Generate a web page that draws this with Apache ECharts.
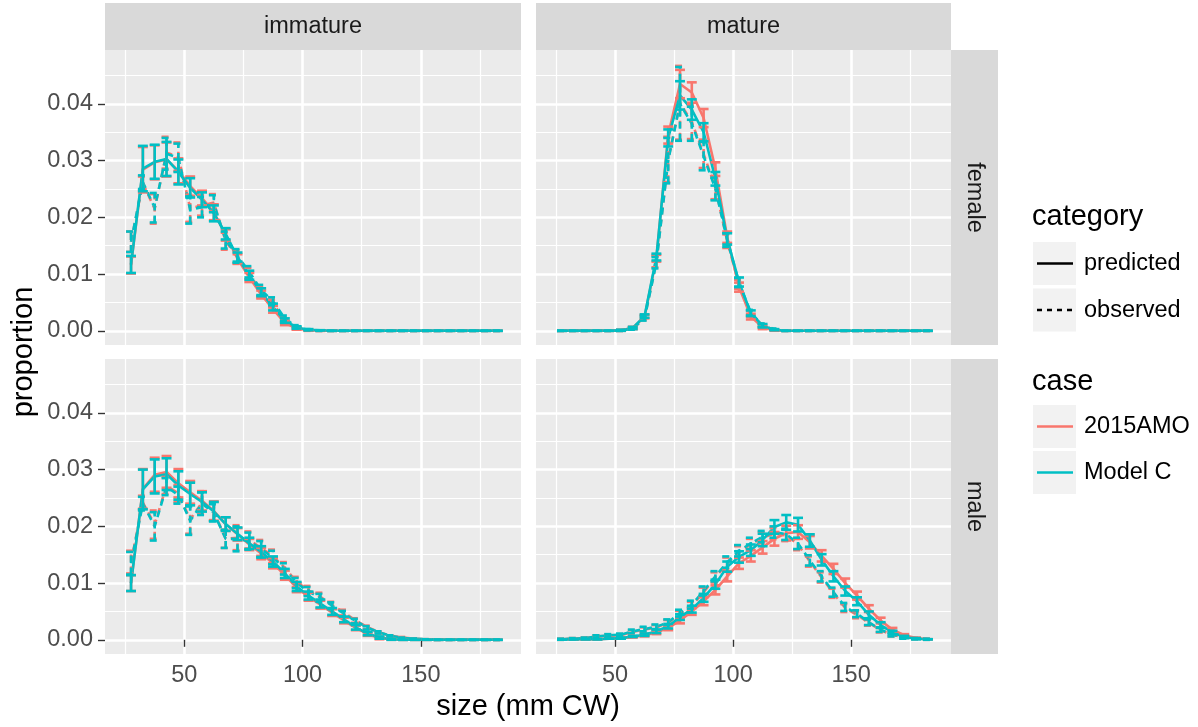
<!DOCTYPE html>
<html><head><meta charset="utf-8">
<script src="https://cdn.jsdelivr.net/npm/echarts@6/dist/echarts.min.js"></script>
<style>html,body{margin:0;padding:0;background:#fff}#c{width:1198px;height:727px}</style>
</head><body><div id="c"></div>
<script>
// ---------- data ----------
const sizes = [27.5,32.5,37.5,42.5,47.5,52.5,57.5,62.5,67.5,72.5,77.5,82.5,87.5,92.5,97.5,102.5,107.5,112.5,117.5,122.5,127.5,132.5,137.5,142.5,147.5,152.5,157.5,162.5,167.5,172.5,177.5,182.5];
const colNames = ['immature','mature'];
const rowNames = ['female','male'];
const caseNames = ['2015AMO','Model C'];
const categoryNames = ['predicted','observed'];
const xTicks = [50,100,150];
const xMinor = [25,75,125,175];
const yTicks = [0,0.01,0.02,0.03,0.04];
const yMinor = [0.005,0.015,0.025,0.035,0.045];

// immature female
const predA_IF = [0.0116,0.0284,0.0297,0.0302,0.0282,0.0255,0.0234,0.0209,0.0169,0.0127,0.0094,0.0064,0.0038,0.0014,0.0004,0.0001,0,0,0,0,0,0,0,0,0,0,0,0,0,0,0,0];
const predC_IF = [0.0117,0.0286,0.0298,0.0303,0.0280,0.0252,0.0231,0.0207,0.0171,0.0130,0.0098,0.0068,0.0042,0.0018,0.0006,0.0002,0.0001,0,0,0,0,0,0,0,0,0,0,0,0,0,0,0];
const errPred_IF = [0.0015,0.0040,0.0030,0.0030,0.0022,0.0017,0.0013,0.0014,0.0010,0.0008,0.0008,0.0007,0.0006,0.0004,0.0002,0.0001,0,0,0,0,0,0,0,0,0,0,0,0,0,0,0,0];
const obsA_IF = [0.0157,0.0260,0.0215,0.0314,0.0307,0.0216,0.0221,0.0226,0.0158,0.0130,0.0101,0.0068,0.0048,0.0019,0.0005,0.0001,0,0,0,0,0,0,0,0,0,0,0,0,0,0,0,0];
const obsC_IF = [0.0157,0.0262,0.0217,0.0312,0.0305,0.0213,0.0218,0.0224,0.0160,0.0132,0.0104,0.0072,0.0052,0.0022,0.0007,0.0002,0,0,0,0,0,0,0,0,0,0,0,0,0,0,0,0];
const errObs_IF = [0.0018,0.0012,0.0026,0.0028,0.0025,0.0024,0.0018,0.0015,0.0015,0.0012,0.0010,0.0009,0.0007,0.0005,0.0003,0.0001,0,0,0,0,0,0,0,0,0,0,0,0,0,0,0,0];

// mature female
const predA_MF = [0,0,0,0,0,0.0001,0.0005,0.0025,0.0128,0.0345,0.0435,0.0420,0.0375,0.0285,0.0165,0.0077,0.0025,0.0006,0.0001,0,0,0,0,0,0,0,0,0,0,0,0,0];
const predC_MF = [0,0,0,0,0,0.0001,0.0005,0.0026,0.0130,0.0340,0.0415,0.0390,0.0350,0.0268,0.0162,0.0086,0.0031,0.0009,0.0002,0,0,0,0,0,0,0,0,0,0,0,0,0];
const errPred_MF = [0,0,0,0,0,0.0001,0.0002,0.0003,0.0006,0.0015,0.0025,0.0018,0.0016,0.0012,0.0010,0.0008,0.0005,0.0003,0.0001,0,0,0,0,0,0,0,0,0,0,0,0,0];
const obsA_MF = [0,0,0,0,0,0,0.0004,0.0023,0.0122,0.0302,0.0402,0.0368,0.0312,0.0252,0.0158,0.0082,0.0030,0.0009,0.0002,0,0,0,0,0,0,0,0,0,0,0,0,0];
const obsC_MF = [0,0,0,0,0,0,0.0004,0.0022,0.0120,0.0300,0.0400,0.0365,0.0308,0.0250,0.0160,0.0085,0.0032,0.0010,0.0003,0,0,0,0,0,0,0,0,0,0,0,0,0];
const errObs_MF = [0,0,0,0,0,0,0.0002,0.0004,0.0010,0.0040,0.0065,0.0030,0.0025,0.0020,0.0012,0.0008,0.0005,0.0003,0.0001,0,0,0,0,0,0,0,0,0,0,0,0,0];

// immature male
const predA_IM = [0.0100,0.0266,0.0291,0.0296,0.0276,0.0260,0.0245,0.0227,0.0204,0.0186,0.0168,0.0152,0.0135,0.0114,0.0092,0.0076,0.0062,0.0048,0.0034,0.0021,0.0010,0.0003,0.0001,0,0,0,0,0,0,0,0,0];
const predC_IM = [0.0100,0.0265,0.0288,0.0292,0.0272,0.0257,0.0243,0.0226,0.0204,0.0187,0.0170,0.0155,0.0138,0.0117,0.0094,0.0078,0.0064,0.0050,0.0036,0.0022,0.0011,0.0004,0.0001,0,0,0,0,0,0,0,0,0];
const errPred_IM = [0.0014,0.0035,0.0030,0.0028,0.0025,0.0020,0.0017,0.0017,0.0012,0.0011,0.0010,0.0010,0.0009,0.0008,0.0008,0.0007,0.0007,0.0006,0.0005,0.0004,0.0003,0.0002,0.0001,0,0,0,0,0,0,0,0,0];
const obsA_IM = [0.0137,0.0242,0.0203,0.0272,0.0258,0.0212,0.0242,0.0226,0.0178,0.0180,0.0176,0.0162,0.0147,0.0127,0.0102,0.0087,0.0076,0.0061,0.0048,0.0034,0.0022,0.0013,0.0007,0.0004,0.0002,0.0001,0,0,0,0,0,0];
const obsC_IM = [0.0135,0.0240,0.0200,0.0270,0.0255,0.0210,0.0240,0.0224,0.0178,0.0178,0.0174,0.0160,0.0145,0.0125,0.0100,0.0085,0.0074,0.0060,0.0046,0.0033,0.0021,0.0013,0.0007,0.0003,0.0002,0.0001,0,0,0,0,0,0];
const errObs_IM = [0.0020,0.0012,0.0025,0.0015,0.0015,0.0025,0.0020,0.0015,0.0016,0.0022,0.0015,0.0014,0.0012,0.0010,0.0009,0.0008,0.0007,0.0006,0.0005,0.0004,0.0003,0.0002,0.0001,0.0001,0,0,0,0,0,0,0,0];

// mature male
const predA_MM = [0.00005,0.0001,0.0001,0.0001,0.0002,0.0003,0.0005,0.0008,0.0013,0.0021,0.0034,0.0050,0.0068,0.0088,0.0112,0.0135,0.0148,0.0163,0.0178,0.0188,0.0190,0.0172,0.0148,0.0125,0.0100,0.0078,0.0055,0.0034,0.0018,0.0008,0.0003,0.0001];
const predC_MM = [0.00005,0.0001,0.0001,0.0001,0.0002,0.0003,0.0006,0.0009,0.0015,0.0024,0.0040,0.0054,0.0074,0.0098,0.0129,0.0146,0.0158,0.0176,0.0199,0.0207,0.0203,0.0175,0.0141,0.0112,0.0086,0.0068,0.0044,0.0026,0.0013,0.0005,0.0002,0.0001];
const errPred_MM = [0,0,0,0,0,0.0001,0.0001,0.0002,0.0003,0.0004,0.0005,0.0006,0.0007,0.0008,0.0009,0.0010,0.0010,0.0011,0.0012,0.0013,0.0012,0.0011,0.0010,0.0009,0.0008,0.0007,0.0006,0.0005,0.0003,0.0002,0.0001,0];
const obsA_MM = [0.0001,0.0002,0.0003,0.0006,0.0007,0.0008,0.0014,0.0018,0.0022,0.0030,0.0045,0.0060,0.0084,0.0110,0.0135,0.0155,0.0168,0.0180,0.0187,0.0184,0.0168,0.0138,0.0110,0.0082,0.0056,0.0044,0.0030,0.0017,0.0009,0.0004,0.0002,0.0001];
const obsC_MM = [0.0001,0.0002,0.0003,0.0006,0.0008,0.0009,0.0015,0.0019,0.0023,0.0031,0.0047,0.0062,0.0086,0.0112,0.0137,0.0157,0.0170,0.0182,0.0190,0.0186,0.0170,0.0140,0.0112,0.0084,0.0058,0.0046,0.0031,0.0018,0.0009,0.0004,0.0002,0.0001];
const errObs_MM = [0.0001,0.0001,0.0001,0.0002,0.0002,0.0002,0.0003,0.0004,0.0004,0.0005,0.0006,0.0007,0.0008,0.0009,0.0010,0.0010,0.0010,0.0010,0.0010,0.0010,0.0010,0.0009,0.0009,0.0008,0.0007,0.0006,0.0005,0.0004,0.0003,0.0002,0.0001,0.0001];

// ---------- layout / style ----------
const FONT = '"Liberation Sans", Arial, Helvetica, sans-serif';
const caseColors = ['#F8766D', '#00BFC4'];
const DASH = [7, 5];
const LW = 2.6;
const CAP = 2.1; // half cap width in size units
const panelLeft = [105, 536], panelWidth = [416, 415];
const panelTop = [50, 359], panelHeight = 295;
const X_MIN = 16.5, X_MAX = 192.3, Y_MIN = -0.0025, Y_MAX = 0.0495;

const panels = [
  {col:0,row:0, pred:[predA_IF,predC_IF], obs:[obsA_IF,obsC_IF], ep:errPred_IF, eo:errObs_IF},
  {col:1,row:0, pred:[predA_MF,predC_MF], obs:[obsA_MF,obsC_MF], ep:errPred_MF, eo:errObs_MF},
  {col:0,row:1, pred:[predA_IM,predC_IM], obs:[obsA_IM,obsC_IM], ep:errPred_IM, eo:errObs_IM},
  {col:1,row:1, pred:[predA_MM,predC_MM], obs:[obsA_MM,obsC_MM], ep:errPred_MM, eo:errObs_MM}
];

const grids = [], xAxes = [], yAxes = [], series = [];
function errRender(color, dash) {
  return function (params, api) {
    const x = api.value(0), lo = api.value(1), hi = api.value(2);
    const a = api.coord([x, lo]), b = api.coord([x, hi]);
    const l = api.coord([x - CAP, lo])[0], r = api.coord([x + CAP, lo])[0];
    const st = {stroke: color, lineWidth: LW, lineDash: dash, fill: null};
    return {type: 'group', children: [
      {type: 'line', shape: {x1: a[0], y1: a[1], x2: b[0], y2: b[1]}, style: st},
      {type: 'line', shape: {x1: l, y1: a[1], x2: r, y2: a[1]}, style: st},
      {type: 'line', shape: {x1: l, y1: b[1], x2: r, y2: b[1]}, style: st}
    ]};
  };
}

panels.forEach((p, g) => {
  grids.push({left: panelLeft[p.col], top: panelTop[p.row], width: panelWidth[p.col], height: panelHeight,
    show: true, backgroundColor: '#EBEBEB', borderWidth: 0, containLabel: false, outerBoundsMode: 'none'});
  const showX = p.row === 1, showY = p.col === 0;
  // major axes
  xAxes.push({gridIndex: g, type: 'value', min: X_MIN, max: X_MAX, position: 'bottom',
    axisLine: {show: false},
    axisTick: {show: showX, length: 7, customValues: xTicks, lineStyle: {color: '#333333', width: 1.4}},
    axisLabel: {show: showX, customValues: xTicks, fontSize: 23.5, color: '#4D4D4D', margin: 10, fontFamily: FONT},
    splitLine: {show: true, lineStyle: {color: '#FFFFFF', width: 2.6}}});
  yAxes.push({gridIndex: g, type: 'value', min: Y_MIN, max: Y_MAX, position: 'left',
    axisLine: {show: false},
    axisTick: {show: showY, length: 7, customValues: yTicks, lineStyle: {color: '#333333', width: 1.4}},
    axisLabel: {show: showY, customValues: yTicks, fontSize: 23.5, color: '#4D4D4D', margin: 12, fontFamily: FONT,
      formatter: v => v.toFixed(2)},
    splitLine: {show: true, lineStyle: {color: '#FFFFFF', width: 2.6}}});
  // minor axes
  xAxes.push({gridIndex: g, type: 'value', min: X_MIN, max: X_MAX, position: 'bottom',
    axisLine: {show: false}, axisTick: {show: false, customValues: xMinor},
    axisLabel: {show: false, customValues: xMinor},
    splitLine: {show: true, lineStyle: {color: '#FFFFFF', width: 1.2}}});
  yAxes.push({gridIndex: g, type: 'value', min: Y_MIN, max: Y_MAX, position: 'left',
    axisLine: {show: false}, axisTick: {show: false, customValues: yMinor},
    axisLabel: {show: false, customValues: yMinor},
    splitLine: {show: true, lineStyle: {color: '#FFFFFF', width: 1.2}}});
  const xi = 2 * g, yi = 2 * g;
  // lines
  for (let k = 0; k < 2; k++) {
    [[p.pred[k], 'solid', 'predicted'], [p.obs[k], DASH, 'observed']].forEach(([vals, type, cat]) => {
      series.push({type: 'line', name: caseNames[k] + ' ' + cat, xAxisIndex: xi, yAxisIndex: yi,
        data: sizes.map((s, i) => [s, vals[i]]), symbol: 'none', showSymbol: false, silent: true,
        lineStyle: {color: caseColors[k], width: LW, type: type, cap: 'butt'}, z: 3, animation: false});
    });
  }
  // error bars
  for (let k = 0; k < 2; k++) {
    [[p.pred[k], p.ep, null], [p.obs[k], p.eo, DASH]].forEach(([vals, err, dash]) => {
      series.push({type: 'custom', xAxisIndex: xi, yAxisIndex: yi, silent: true, animation: false, z: 4,
        encode: {x: 0, y: [1, 2]}, clip: true,
        data: sizes.map((s, i) => [s, vals[i] - err[i], vals[i] + err[i]]),
        renderItem: errRender(caseColors[k], dash)});
    });
  }
});

// strips and legend as graphics
const graphic = [];
const txt = (x, y, text, size, opts = {}) => Object.assign({type: 'text', x, y, silent: true,
  style: {text, font: size + 'px ' + FONT, fill: opts.fill || '#000000',
    align: opts.align || 'left', verticalAlign: 'middle'}}, opts.rotation !== undefined ? {rotation: opts.rotation} : {});
colNames.forEach((n, c) => {
  graphic.push({type: 'rect', silent: true, shape: {x: panelLeft[c], y: 3, width: panelWidth[c], height: 47}, style: {fill: '#D9D9D9'}});
  graphic.push(txt(panelLeft[c] + panelWidth[c] / 2, 26.5, n, 23.5, {align: 'center', fill: '#1A1A1A'}));
});
rowNames.forEach((n, r) => {
  graphic.push({type: 'rect', silent: true, shape: {x: 951, y: panelTop[r], width: 47, height: panelHeight}, style: {fill: '#D9D9D9'}});
  graphic.push(txt(974.5, panelTop[r] + panelHeight / 2, n, 23.5, {align: 'center', fill: '#1A1A1A', rotation: -Math.PI / 2}));
});
// axis titles
graphic.push(txt(528, 707, 'size (mm CW)', 29, {align: 'center'}));
graphic.push(txt(23.5, 352, 'proportion', 29, {align: 'center', rotation: Math.PI / 2}));
// legend: category
graphic.push(txt(1032, 216.5, 'category', 29));
const catKeysY = [242, 288.5];
categoryNames.forEach((n, i) => {
  const y = catKeysY[i];
  graphic.push({type: 'rect', silent: true, shape: {x: 1033, y, width: 43, height: 43}, style: {fill: '#F2F2F2'}});
  graphic.push({type: 'line', silent: true, shape: {x1: 1037, y1: y + 21.5, x2: 1073, y2: y + 21.5},
    style: {stroke: '#000000', lineWidth: LW, lineDash: i === 1 ? [5, 5] : null}});
  graphic.push(txt(1084, y + 22, n, 23.5));
});
graphic.push(txt(1032, 381.5, 'case', 29));
const caseKeysY = [405, 451];
caseNames.forEach((n, i) => {
  const y = caseKeysY[i];
  graphic.push({type: 'rect', silent: true, shape: {x: 1033, y, width: 43, height: 43}, style: {fill: '#F2F2F2'}});
  graphic.push({type: 'line', silent: true, shape: {x1: 1037, y1: y + 21.5, x2: 1073, y2: y + 21.5},
    style: {stroke: caseColors[i], lineWidth: LW}});
  graphic.push(txt(1084, y + 22, n, 23.5));
});

const chart = echarts.init(document.getElementById('c'), null, {renderer: 'canvas'});
chart.setOption({
  animation: false,
  backgroundColor: '#FFFFFF',
  grid: grids, xAxis: xAxes, yAxis: yAxes, series: series, graphic: graphic
});
</script></body></html>
